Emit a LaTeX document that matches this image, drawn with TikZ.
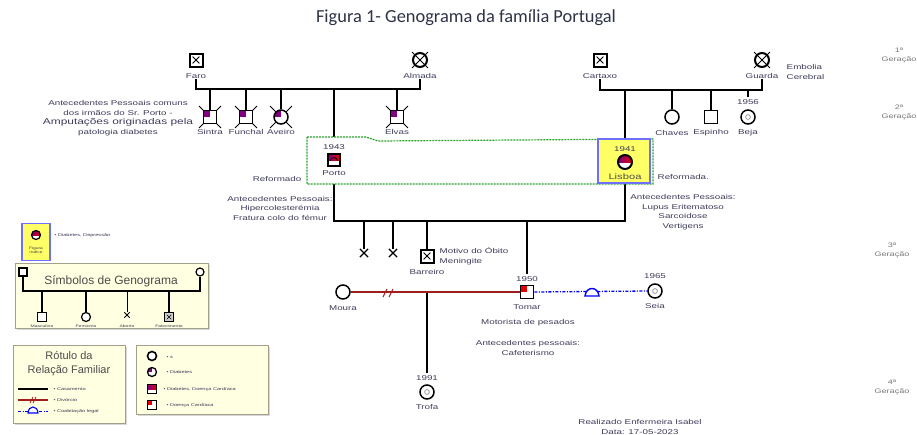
\documentclass[tikz,border=0pt]{standalone}
\usepackage{fontspec}
\setmainfont{Liberation Sans}
\newfontfamily\wide[FakeStretch=1.4]{Liberation Sans}
\newfontfamily\titlefont{Carlito}
\usetikzlibrary{shapes.misc,shadows,calc}

\definecolor{txt}{RGB}{60,60,90}
\definecolor{titlec}{RGB}{45,50,70}
\definecolor{gentxt}{RGB}{120,120,120}
\definecolor{pur}{RGB}{128,0,128}
\definecolor{hred}{RGB}{230,0,0}
\definecolor{divred}{RGB}{160,30,30}
\definecolor{cohab}{RGB}{0,0,255}
\definecolor{hhgreen}{RGB}{40,160,40}
\definecolor{idxfill}{RGB}{255,255,102}
\definecolor{idxline}{RGB}{110,110,255}
\definecolor{cream}{RGB}{255,255,225}
\definecolor{legline}{RGB}{160,160,140}

\pgfdeclarelayer{bg}
\pgfdeclarelayer{mid}
\pgfsetlayers{bg,mid,main}

\tikzset{
  male/.style={draw, rectangle, minimum size=13pt, inner sep=0pt, line width=1.5pt, fill=white},
  female/.style={draw, circle, minimum size=14pt, inner sep=0pt, line width=1.5pt, fill=white},
  deadx/.style={draw, cross out, minimum size=#1, inner sep=0pt, line width=0.9pt},
  deadx/.default=21pt,
  innerx/.style={draw, cross out, minimum size=6pt, inner sep=0pt, line width=0.8pt},
  lbl/.style={font=\wide\fontsize{7}{9.5}\selectfont, text=txt, inner sep=0.5pt},
  tiny/.style={font=\wide\fontsize{4}{5}\selectfont, text=txt, inner sep=0.3pt},
  gen/.style={font=\wide\fontsize{6.5}{9}\selectfont, text=gentxt, align=center, inner sep=0pt},
  link/.style={line width=1.8pt, line cap=butt},
  leglink/.style={line width=1.3pt},
  q1/.style={path picture={\fill[#1] (path picture bounding box.north west) rectangle (path picture bounding box.center);}},
  tophalf/.style={path picture={\shade[left color=pur, middle color=blue!80, right color=hred] (path picture bounding box.north west) rectangle (path picture bounding box.east);}},
  toppr/.style={path picture={\shade[left color=pur, right color=hred] (path picture bounding box.north west) rectangle (path picture bounding box.east);}},
  dotin/.style={path picture={\draw[gray, line width=0.6pt] (path picture bounding box.center) circle (2.4pt);}},
  legbox/.style={draw=legline, fill=cream, line width=1pt, drop shadow={shadow xshift=1.5pt, shadow yshift=-1.5pt, fill=gray!60}},
  hh/.style={draw=hhgreen, line width=1.2pt, dash pattern=on 2pt off 1pt, fill=white},
  divline/.style={draw=divred, line width=1.6pt},
  cohabline/.style={draw=cohab, line width=1.3pt, dash pattern=on 3pt off 1.5pt on 1pt off 1.5pt},
  dome/.style={draw=cohab, line width=1.4pt, fill=white}
}

\begin{document}
\begin{tikzpicture}[x=1pt,y=-1pt]
\useasboundingbox (0,0) rectangle (917,434);

% ---------- title ----------
\node[font=\titlefont\fontsize{18.4}{20}\selectfont, text=titlec] (title) at (466,18) {Figura 1- Genograma da família Portugal};

% ---------- generation labels ----------
\node[gen] (g1) at (899,55) {1ª\\Geração};
\node[gen] (g2) at (899,112) {2ª\\Geração};
\node[gen] (g3) at (892,250) {3ª\\Geração};
\node[gen] (g4) at (892,387) {4ª\\Geração};

% ---------- 1st generation ----------
\node[male, line width=2pt] (faro) at (196,60) {};
\node[innerx] (farox) at (faro) {};
\node[lbl] (farol) at (196,76) {Faro};

\node[female, line width=2pt] (almada) at (420,60) {};
\node[deadx=15pt] (almadax) at (almada) {};
\node[lbl] (almadal) at (420,76) {Almada};

\node[male, line width=2pt] (cartaxo) at (600,60) {};
\node[innerx] (cartaxox) at (cartaxo) {};
\node[lbl] (cartaxol) at (600,76) {Cartaxo};

\node[female, line width=2pt] (guarda) at (762,60) {};
\node[deadx=15pt] (guardax) at (guarda) {};
\node[lbl] (guardal) at (762,76) {Guarda};
\node[lbl, anchor=west, align=left] (embolia) at (786,72) {Embolia\\Cerebral};

\coordinate (m1) at (308,89);
\coordinate (m1b) at (680,90);

% ---------- 2nd generation ----------
\node[deadx] (sintrax) at (210,117) {};
\node[male, q1=pur] (sintra) at (210,117) {};
\node[lbl] (sintral) at (210,132) {Sintra};

\node[deadx] (funchalx) at (246,117) {};
\node[male, q1=pur] (funchal) at (246,117) {};
\node[lbl] (funchall) at (246,132) {Funchal};

\node[deadx] (aveirox) at (281,117) {};
\node[female, q1=pur] (aveiro) at (281,117) {};
\node[lbl] (aveirol) at (281,132) {Aveiro};

\node[deadx] (elvasx) at (397,117) {};
\node[male, q1=pur] (elvas) at (397,117) {};
\node[lbl] (elvasl) at (397,132) {Elvas};

\node[lbl, align=center] (antec1) at (118,118) {Antecedentes Pessoais comuns\\dos irmãos do Sr. Porto -\\{\fontsize{8.5}{10}\selectfont Amputações originadas pela}\\patologia diabetes};

\node[female] (chaves) at (672,117) {};
\node[lbl] (chavesl) at (672,133) {Chaves};
\node[male] (espinho) at (711,117) {};
\node[lbl] (espinhol) at (711,133) {Espinho};
\node[lbl] (beja56) at (748,102) {1956};
\node[female, dotin] (beja) at (748,117) {};
\node[lbl] (bejal) at (748,133) {Beja};

% household and index person boxes
\begin{pgfonlayer}{mid}
\draw[hh] (307,137) -- (366,137) -- (378,141) -- (653,139) -- (653,184) -- (307,184) -- cycle;
\node[draw=idxline, fill=idxfill, line width=1.6pt, minimum width=52pt, minimum height=44pt, inner sep=0pt] (lisbox) at (624,161) {};
\end{pgfonlayer}

\node[lbl] (porto43) at (334,147) {1943};
\node[male, minimum size=12pt, toppr] (porto) at (334,160) {};
\draw[line width=0.7pt] ([shift={(-3.5pt,-1pt)}]porto.center) arc (180:0:3.5pt);
\node[lbl] (portol) at (334,173) {Porto};
\node[lbl, anchor=east] (reformado) at (302,179) {Reformado};

\node[lbl] (lisboa41) at (625,149) {1941};
\node[female, line width=2pt, minimum size=14pt, tophalf] (lisboa) at (625,162) {};
\node[lbl, font=\wide\fontsize{8}{9}\selectfont, text=black!70] (lisboal) at (625,177) {Lisboa};
\node[lbl, anchor=west] (reformada) at (657,177) {Reformada.};

\node[lbl, align=center] (antecporto) at (280,208) {Antecedentes Pessoais:\\Hipercolesterémia\\Fratura colo do fémur};
\node[lbl, align=center] (anteclisboa) at (683,212) {Antecedentes Pessoais:\\Lupus Eritematoso\\Sarcoidose\\Vertigens};

\coordinate (m2) at (480,221);

% ---------- 3rd generation ----------
\node[deadx=7pt, line width=1.2pt] (ab1) at (364,253) {};
\node[deadx=7pt, line width=1.2pt] (ab2) at (393,253) {};

\node[male, line width=2pt] (barreiro) at (427,256) {};
\node[innerx] (barreirox) at (barreiro) {};
\node[lbl] (barreirol) at (427,272) {Barreiro};
\node[lbl, anchor=west, align=left] (motivo) at (439,256) {Motivo do Óbito\\Meningite};

\node[lbl] (tomar50) at (527,279) {1950};
\node[male, q1=hred] (tomar) at (527,292) {};
\node[lbl] (tomarl) at (527,307) {Tomar};
\node[lbl] (motorista) at (528,323) {Motorista de pesados};
\node[lbl, align=center] (antectomar) at (528,348) {Antecedentes pessoais:\\Cafeterismo};

\node[female] (moura) at (343,292) {};
\node[lbl] (moural) at (343,308) {Moura};

\node[lbl] (seia65) at (655,276) {1965};
\node[female, dotin] (seia) at (655,291) {};
\node[lbl] (seial) at (655,306) {Seia};

\coordinate (divmark) at (388,293);
\coordinate (domec) at (592,293);
\coordinate (m3) at (427,293);

% ---------- 4th generation ----------
\node[lbl] (trofa91) at (427,378) {1991};
\node[female, dotin] (trofa) at (427,392) {};
\node[lbl] (trofal) at (427,407) {Trofa};

\node[lbl, align=center] (autor) at (640,427) {Realizado Enfermeira Isabel\\Data: 17-05-2023};

% ---------- connectors ----------
\begin{pgfonlayer}{bg}
\draw[link] (farol.south) |- (m1) -| (almadal.south);
\draw[link] (cartaxol.south) |- (m1b) -| (guardal.south);
\foreach \c in {sintra,funchal,aveiro,elvas}
  \draw[link] (\c.north) -- (\c.north |- m1);
\draw[link] (porto43.north |- m1) -- (porto43.north);
\foreach \c in {chaves,espinho}
  \draw[link] (\c.north) -- (\c.north |- m1b);
\draw[link] ([yshift=2pt]beja56.north) -- (beja56.north |- m1b);
\draw[link] (lisboa41.north |- m1b) -- (lisboa41.north);
\draw[link] (portol.south) |- (m2) -| (lisboal.south);
\draw[link] (ab1.north) -- (ab1.north |- m2);
\draw[link] (ab2.north) -- (ab2.north |- m2);
\draw[link] (barreiro.north) -- (barreiro.north |- m2);
\draw[link] ([yshift=2pt]tomar50.north) -- (tomar50.north |- m2);
\draw[link] (m3) -- ([yshift=2pt]trofa91.north);
\draw[divline] (moura.east) -- (tomar.west);
\draw[cohabline] (tomar.east) -- (seia.west);
\end{pgfonlayer}
\draw[divred, line width=1.1pt] ($(divmark)+(-5,4)$) -- ($(divmark)+(-1,-4)$);
\draw[divred, line width=1.1pt] ($(divmark)+(1,4)$) -- ($(divmark)+(5,-4)$);
\draw[dome] ($(domec)+(-7,3)$) .. controls ($(domec)+(-6,-7)$) and ($(domec)+(6,-7)$) .. ($(domec)+(7,3)$) -- cycle;

% ---------- legend: index person ----------
\node[draw=idxline, fill=idxfill, line width=1.3pt, minimum width=28pt, minimum height=37pt, inner sep=0pt] (idxbox) at (36,242) {};
\node[female, minimum size=9pt, line width=1.2pt, tophalf] (idxsym) at (36,235) {};
\node[tiny, align=center, font=\wide\fontsize{3.5}{4}\selectfont] (idxtxt) at (36,250) {Figura\\índice};
\node[tiny, anchor=west] (idxdesc) at (54,235) {• Diabetes, Depressão};

% ---------- legend: genogram symbols ----------
\node[legbox, minimum width=193pt, minimum height=65pt, inner sep=0pt] (symbox) at (111.5,295.5) {};
\node[font=\fontsize{12}{14}\selectfont, text=black!70] (symtitle) at (111,281) {Símbolos de Genograma};
\node[male, minimum size=8pt, line width=1.2pt] (symm) at (23,272) {};
\node[female, minimum size=8pt, line width=1.2pt] (symf) at (200,272) {};
\coordinate (lm) at (110,291);
\node[male, minimum size=9pt, line width=1.2pt] (smasc) at (42,317) {};
\node[female, minimum size=9pt, line width=1.2pt] (sfem) at (86,317) {};
\node[deadx=4.5pt, line width=0.8pt] (sabort) at (127,315) {};
\node[male, minimum size=9pt, line width=1.6pt, fill=gray!40] (sfalec) at (169,317) {};
\node[innerx, minimum size=4pt, line width=0.5pt] (sfalecx) at (sfalec) {};
\node[tiny, font=\wide\fontsize{3.6}{4}\selectfont] (lmasc) at (42,326) {Masculino};
\node[tiny, font=\wide\fontsize{3.6}{4}\selectfont] (lfem) at (86,326) {Feminino};
\node[tiny, font=\wide\fontsize{3.6}{4}\selectfont] (labort) at (127,326) {Aborto};
\node[tiny, font=\wide\fontsize{3.6}{4}\selectfont] (lfalec) at (169,326) {Falecimento};
\draw[leglink] (symm.south) |- (lm) -| (symf.south);
\foreach \c in {smasc,sfem,sfalec}
  \draw[leglink] (\c.north) -- (\c.north |- lm);
\draw[leglink, line width=1pt] (sabort.north) -- (sabort.north |- lm);

% ---------- legend: relationship lines ----------
\node[legbox, minimum width=112pt, minimum height=78pt, inner sep=0pt] (relbox) at (69,384) {};
\node[font=\fontsize{11}{14}\selectfont, text=black!70, align=center] (reltitle) at (69,364) {Rótulo da\\Relação Familiar};
\coordinate (r1a) at (18,389); \coordinate (r1b) at (48,389);
\coordinate (r2a) at (18,400); \coordinate (r2b) at (48,400);
\coordinate (r3a) at (18,411); \coordinate (r3b) at (48,411);
\draw[line width=1.5pt] (r1a) -- (r1b);
\draw[divline, line width=1.3pt] (r2a) -- (r2b);
\draw[divred, line width=0.8pt] (30,403) -- (33,397) (33,403) -- (36,397);
\draw[cohabline, line width=1pt] (r3a) -- (r3b);
\draw[dome, line width=1.1pt] (28,413) .. controls (28.5,405) and (37.5,405) .. (38,413) -- cycle;
\node[tiny, anchor=west] (lcas) at (53,389) {• Casamento};
\node[tiny, anchor=west] (ldiv) at (53,400) {• Divórcio};
\node[tiny, anchor=west] (lcoab) at (53,411) {• Coabitação legal};

% ---------- legend: conditions ----------
\node[legbox, minimum width=132pt, minimum height=69pt, inner sep=0pt] (condbox) at (202,379.5) {};
\node[female, minimum size=9pt, line width=1.6pt] (c1) at (152,356) {};
\node[female, minimum size=9pt, line width=1.3pt, q1=pur] (c2) at (152,372) {};
\node[male, minimum size=9pt, line width=1.3pt, toppr] (c3) at (152,389) {};
\node[male, minimum size=9pt, line width=1.3pt, q1=hred] (c4) at (152,405) {};
\node[tiny, anchor=west] (lc1) at (166,357) {• s};
\node[tiny, anchor=west] (lc2) at (166,372) {• Diabetes};
\node[tiny, anchor=west] (lc3) at (163,389) {• Diabetes, Doença Cardíaca};
\node[tiny, anchor=west] (lc4) at (166,405) {• Doença Cardíaca};
\end{tikzpicture}
\end{document}
